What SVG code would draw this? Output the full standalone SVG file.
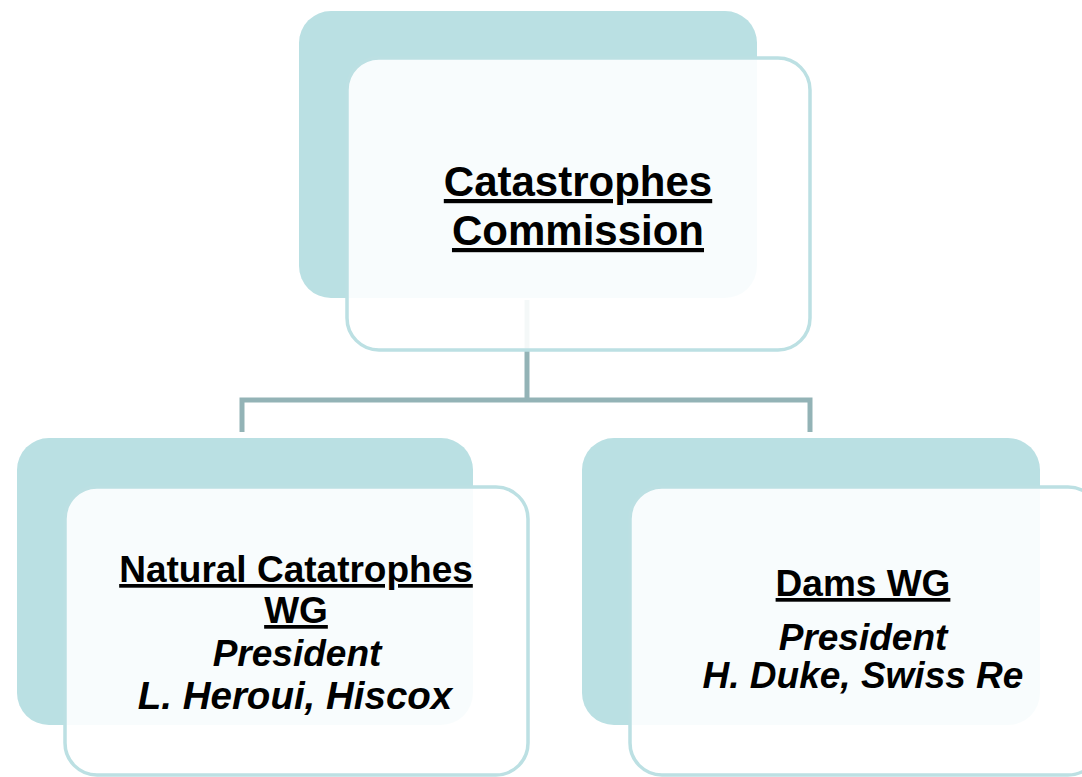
<svg xmlns="http://www.w3.org/2000/svg" width="1082" height="777" viewBox="0 0 1082 777">
<style>
.back{fill:#bae0e3}
.front{fill:#ffffff;fill-opacity:0.9;stroke:#bce0e3;stroke-width:3.5}
.conn{fill:none;stroke:#93b3b6;stroke-width:5}
.t{font-family:"Liberation Sans",Arial,sans-serif;font-weight:bold;fill:#000;text-anchor:middle}
.u{text-decoration:underline}
.i{font-style:italic}
</style>
<rect width="1082" height="777" fill="#ffffff"/>
<g id="connectors">
<path class="conn" d="M527,300 V400"/>
<path class="conn" d="M242,432 V400 H810 V432"/>
</g>
<g id="node-commission">
<rect class="back" x="299" y="11" width="458" height="287" rx="32"/>
<rect class="front" x="347" y="58" width="463" height="292" rx="32"/>
<text class="t u" x="578" y="196" font-size="42">Catastrophes</text>
<text class="t u" x="578" y="245" font-size="42">Commission</text>
</g>
<g id="node-natcat">
<rect class="back" x="17" y="438" width="456" height="287" rx="32"/>
<rect class="front" x="65" y="487" width="463" height="288" rx="32"/>
<text class="t u" x="296" y="582" font-size="37">Natural Catatrophes</text>
<text class="t u" x="296" y="623" font-size="37">WG</text>
<text class="t i" x="297" y="666" font-size="37">President</text>
<text class="t i" x="295" y="709" font-size="38.5">L. Heroui, Hiscox</text>
</g>
<g id="node-dams">
<rect class="back" x="582" y="438" width="458" height="287" rx="32"/>
<rect class="front" x="630" y="487" width="470" height="288" rx="32"/>
<text class="t u" x="863" y="596" font-size="37">Dams WG</text>
<text class="t i" x="863" y="650" font-size="37">President</text>
<text class="t i" x="863" y="688" font-size="37">H. Duke, Swiss Re</text>
</g>
</svg>
